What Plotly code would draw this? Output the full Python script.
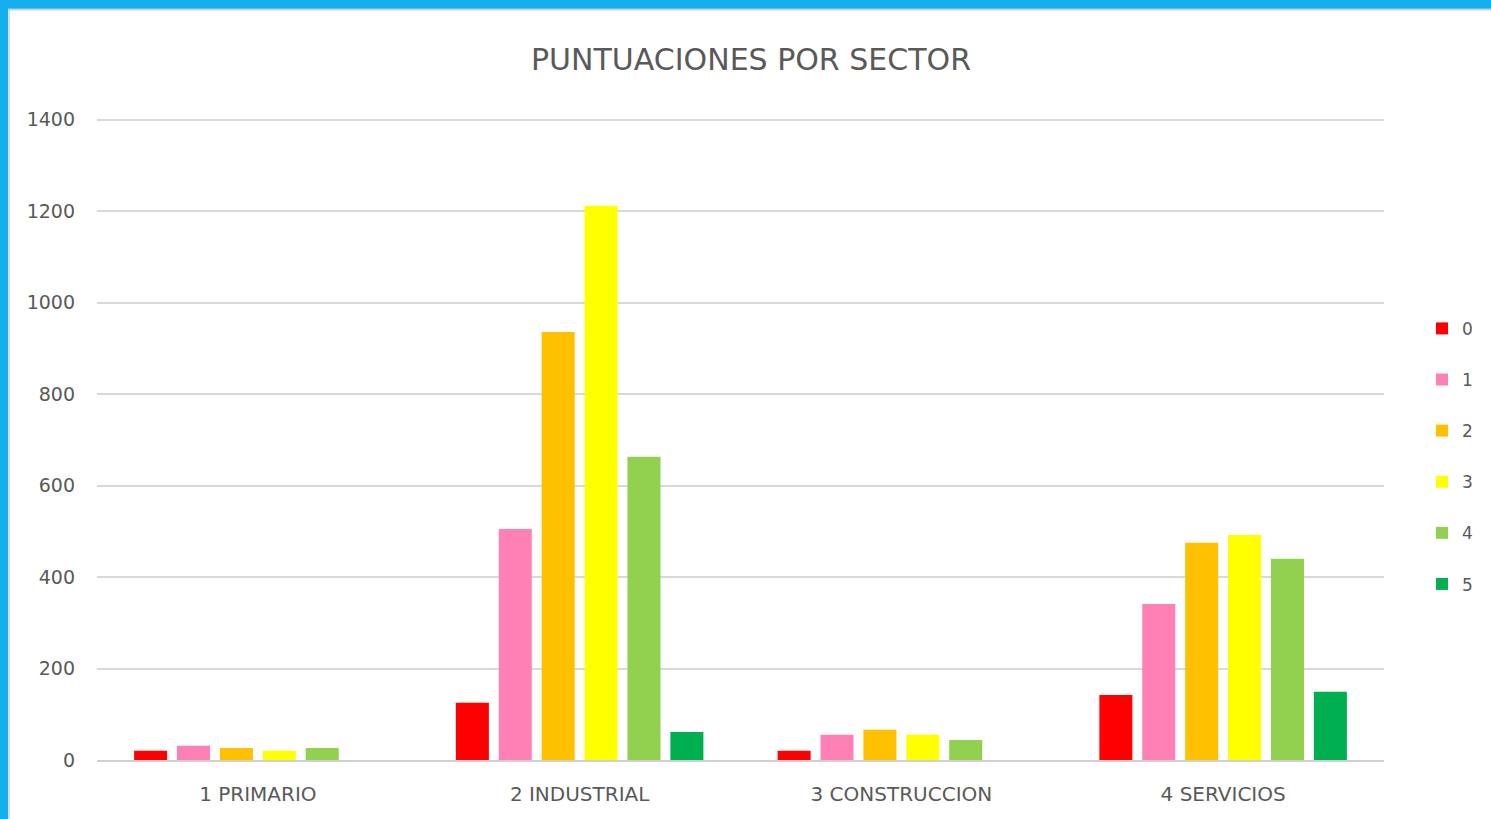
import plotly.graph_objects as go

categories = ["1 PRIMARIO", "2 INDUSTRIAL", "3 CONSTRUCCION", "4 SERVICIOS"]
series_names = ["0", "1", "2", "3", "4", "5"]
s0 = [20, 125, 20, 142]
s1 = [31, 505, 55, 341]
s2 = [26, 936, 66, 475]
s3 = [20, 1212, 55, 492]
s4 = [26, 663, 44, 440]
s5 = [0, 61, 0, 149]
series_values = [s0, s1, s2, s3, s4, s5]
colors = ["#FF0000", "#FF80B4", "#FFC000", "#FFFF00", "#92D050", "#00B050"]
y_ticks = [0, 200, 400, 600, 800, 1000, 1200, 1400]

W, H = 1491, 819
y_top = 1404
L, R, B = 97, 107, 59
T = 120 - (y_top - 1400) * 640 / 1400
pw, ph = W - L - R, H - T - B

FONT = "DejaVu Sans, Open Sans, sans-serif"
GREY = "#595959"

fig = go.Figure()
for name, vals, col in zip(series_names, series_values, colors):
    fig.add_trace(go.Bar(
        x=categories, y=vals, name=name, marker_color=col,
        marker_line_width=0, legendgroup=name,
    ))

def px_x(p):
    return (p - L) / pw

def px_y(p):
    return 1 - (p - T) / ph

shapes = [
    dict(type="rect", xref="paper", yref="paper", x0=px_x(-2), x1=px_x(W + 2), y0=px_y(9), y1=px_y(-2),
         fillcolor="#15B0EC", line_width=0, layer="above"),
    dict(type="rect", xref="paper", yref="paper", x0=px_x(-2), x1=px_x(8), y0=px_y(H + 2), y1=px_y(0),
         fillcolor="#15B0EC", line_width=0, layer="above"),
    dict(type="line", xref="paper", yref="paper", x0=px_x(8), x1=px_x(W), y0=px_y(10), y1=px_y(10),
         line=dict(color="#D0D0D0", width=1.5)),
    dict(type="line", xref="paper", yref="paper", x0=px_x(9), x1=px_x(9), y0=px_y(H), y1=px_y(10),
         line=dict(color="#D0D0D0", width=1.5)),
]

fig.update_layout(
    width=W, height=H,
    margin=dict(l=L, r=R, t=T, b=B, pad=0, autoexpand=False),
    paper_bgcolor="white", plot_bgcolor="white",
    title=dict(text="PUNTUACIONES POR SECTOR", x=(751 - L) / pw, xref="paper", xanchor="center",
               y=1 - 59 / H, yanchor="middle",
               font=dict(family=FONT, size=30, color=GREY)),
    font=dict(family=FONT, color=GREY),
    barmode="group", bargap=0.2, bargroupgap=0.23,
    showlegend=True,
    legend=dict(x=1.0 + (1422 - (L + pw)) / pw, xanchor="left", y=px_y(311), yanchor="top",
                font=dict(size=17, color=GREY), tracegroupgap=26,
                itemwidth=30, bgcolor="rgba(0,0,0,0)"),
    shapes=shapes,
)
fig.update_xaxes(showgrid=False, showline=True, linecolor="#D0D0D0", linewidth=1.5,
                 ticks="", tickfont=dict(size=20, color=GREY), ticklabelstandoff=15,
                 automargin=False)
fig.update_yaxes(range=[0, y_top], tickvals=y_ticks, showgrid=True, gridcolor="#D9D9D9",
                 gridwidth=1.5, zeroline=False, showline=False, ticks="",
                 tickfont=dict(size=19, color=GREY), ticklabelstandoff=21,
                 automargin=False)

fig.write_html("out.html", config={"displayModeBar": False},
               post_script="document.body.style.margin='0';document.body.style.padding='0';")
